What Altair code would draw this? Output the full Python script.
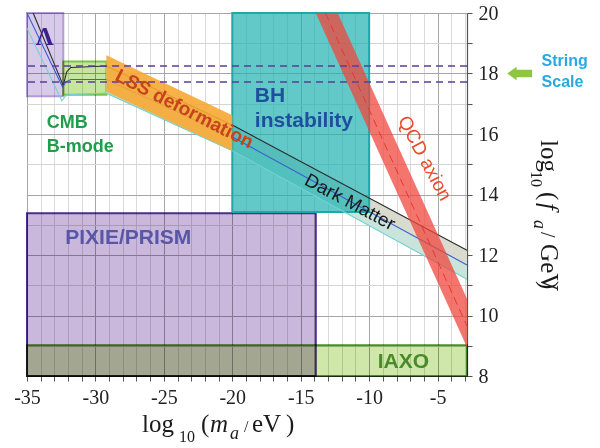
import altair as alt
import pandas as pd

# Axis ranges: log10(m_a / eV) and log10(f_a / GeV)
X_DOMAIN = [-35, -2.85]
Y_DOMAIN = [8, 20]

# Rectangular regions drawn with multiply blending
box_name = ["PIXIE/PRISM", "IAXO", "Lambda", "CMB B-mode"]
box_x0 = [-35.0, -35.0, -35.0, -32.35]
box_x1 = [-13.9, -2.85, -32.35, -29.2]
box_y0 = [8.0, 8.0, 17.25, 17.3]
box_y1 = [13.38, 9.02, 20.0, 18.4]
box_fill = ["#c9b8dc", "#cfe7a9", "#d8cbe9", "#c6e69f"]
box_stroke = ["#4b2d8f", "#4f8c2b", "#b49bd4", "#7ec544"]

# Black-hole superradiance region
bh_x = [-20.0, -10.0]
bh_y = [13.42, 20.0]

# Dark-matter relic lines (upper, central, lower)
dm_upper_x = [-34.55, -32.35, -32.1, -31.8, -29.2, -20.0, -2.85]
dm_upper_y = [20.0, 17.6, 18.05, 18.2, 18.25, 16.3, 12.16]
dm_mid_x = [-35.0, -32.4, -32.15, -31.8, -29.2, -20.0, -2.85]
dm_mid_y = [20.0, 17.55, 17.72, 17.8, 17.8, 15.9, 11.67]
dm_low_x = [-35.0, -32.45, -32.1, -29.2, -20.0, -2.85]
dm_low_y = [19.5, 17.1, 17.3, 17.35, 15.45, 11.2]
DM_BAND_START = -29.2

# Large-scale-structure deformation band
lss_x = [-29.2, -20.0]
lss_lo = [17.4, 15.45]
lss_hi = [18.6, 16.62]

# QCD axion band and its central line
qcd_x = [-13.9, -12.3, -2.85]
qcd_lo = [20.0, 18.4, 8.95]
qcd_hi = [20.0, 20.0, 10.55]
qcd_mid_x = [-13.2, -2.85]
qcd_mid_y = [20.0, 9.65]

# String scale
string_y = [18.25, 17.72]

# Region labels
lab_text = ["PIXIE/PRISM", "IAXO", "CMB", "B-mode", "BH", "instability",
            "LSS deformation", "Dark Matter", "QCD axion", "String", "Scale"]
lab_x = [-27.6, -7.5, -33.55, -33.55, -18.35, -18.35, -23.5, -11.4, -5.95, 2.6, 2.6]
lab_y = [12.56, 8.45, 16.36, 15.57, 17.26, 16.43, 16.83, 13.75, 15.2, 18.41, 17.72]
lab_angle = [0, 0, 0, 0, 0, 0, 27, 28, 62, 0, 0]
lab_color = ["#5756a8", "#4a8a2a", "#1e9e4a", "#1e9e4a", "#1d4f9e", "#1d4f9e",
             "#c5431d", "#1a1a1a", "#ec4a2c", "#27a9e1", "#27a9e1"]
lab_size = [21, 21, 18, 18, 21, 21, 19, 19, 19, 16, 16]
lab_weight = ["bold", "bold", "bold", "bold", "bold", "bold",
              "bold", "normal", "normal", "bold", "bold"]
lab_align = ["center", "center", "left", "left", "left", "left",
             "center", "center", "center", "left", "left"]

# Cosmological-constant symbol
lambda_pos = (-33.7, 19.2)

# Arrow pointing at the string scale
arrow_pos = (1.0, 18.0)
ARROW_PATH = "M -1 0 L -0.25 -0.55 L -0.25 -0.3 L 1 -0.3 L 1 0.3 L -0.25 0.3 L -0.25 0.55 Z"

# Axis titles built piece by piece (text, x, y, size, style)
xt_text = ["log", "10", "(", "m", "a", "/", "eV", ")"]
xt_x = [-26.6, -23.9, -22.29, -21.63, -20.17, -19.15, -18.56, -16.08]
xt_y = [6.15, 5.82, 6.15, 6.15, 5.92, 6.15, 6.15, 6.15]
xt_size = [25, 16, 25, 25, 18, 16, 25, 25]
xt_style = ["normal", "normal", "normal", "italic", "italic", "normal", "normal", "normal"]

yt_text = ["log", "10", "(", "f", "a", "/", "GeV", ")"]
yt_x = [2.545, 1.815, 2.545, 2.545, 2.03, 2.545, 2.545, 2.545]
yt_y = [15.8, 14.78, 14.08, 13.72, 13.16, 12.76, 12.36, 11.14]
yt_size = [25, 16, 25, 25, 18, 20, 25, 25]
yt_style = ["normal", "normal", "normal", "italic", "italic", "normal", "normal", "normal"]

SERIF = "Liberation Serif"
SANS = "Liberation Sans"

XS = alt.Scale(domain=X_DOMAIN, nice=False, zero=False)
YS = alt.Scale(domain=Y_DOMAIN, nice=False, zero=False)

x_axis = alt.Axis(
    orient="bottom", values=list(range(-35, -2)),
    labelExpr="datum.value % 5 === 0 ? '' + datum.value : ''",
    title=None, grid=True,
    gridColor=alt.condition("datum.value % 5 === 0", alt.value("#a6a6a6"), alt.value("#dadada")),
    gridWidth=1, tickSize=5, tickColor="#555", domainColor="#555", domainWidth=1.2,
    labelFont=SERIF, labelFontSize=20, labelColor="#222", labelPadding=6,
    labelFlush=False, labelOverlap=False,
)
y_axis = alt.Axis(
    orient="right", values=list(range(8, 21)),
    labelExpr="datum.value % 2 === 0 ? '' + datum.value : ''",
    title=None, grid=True,
    gridColor=alt.condition("datum.value % 2 === 0", alt.value("#a6a6a6"), alt.value("#d4d4d4")),
    gridWidth=1, tickSize=5, tickColor="#555", domainColor="#555", domainWidth=1.2,
    labelFont=SERIF, labelFontSize=20, labelColor="#222", labelPadding=6,
    labelOverlap=False,
)


def X(field="x"):
    return alt.X(f"{field}:Q", scale=XS, axis=x_axis)


def Y(field="y"):
    return alt.Y(f"{field}:Q", scale=YS, axis=y_axis)


boxes = pd.DataFrame({"name": box_name, "x0": box_x0, "x1": box_x1, "y0": box_y0,
                      "y1": box_y1, "fill": box_fill, "stroke": box_stroke})
box_layer = alt.Chart(boxes).mark_rect(strokeWidth=2, blend="multiply").encode(
    x=X("x0"), x2="x1:Q", y=Y("y0"), y2="y1:Q",
    fill=alt.Fill("fill:N", scale=None),
    stroke=alt.Stroke("stroke:N", scale=None),
)

bh = pd.DataFrame({"x0": [bh_x[0]], "x1": [bh_x[1]], "y0": [bh_y[0]], "y1": [bh_y[1]]})
bh_layer = alt.Chart(bh).mark_rect(
    fill="#1fb0b0", fillOpacity=0.7, stroke="#1ea8a8", strokeWidth=2
).encode(x=X("x0"), x2="x1:Q", y=Y("y0"), y2="y1:Q")


# Dark-matter band fill, from the diagonal part of the three lines
def band_points(xs, ys):
    return {x: y for x, y in zip(xs, ys) if x >= DM_BAND_START}


up = band_points(dm_upper_x, dm_upper_y)
mid = band_points(dm_mid_x, dm_mid_y)
low = band_points(dm_low_x, dm_low_y)
band_x = sorted(up)
band = pd.DataFrame({"x": band_x, "up": [up[x] for x in band_x],
                     "mid": [mid[x] for x in band_x], "low": [low[x] for x in band_x]})
band_upper = alt.Chart(band).mark_area(color="#d9dbcf").encode(
    x=X(), y=Y("up"), y2="mid:Q")
band_lower = alt.Chart(band).mark_area(color="#c9e4da").encode(
    x=X(), y=Y("mid"), y2="low:Q")

dm_rows = []
for name, xs, ys, col in [("upper", dm_upper_x, dm_upper_y, "#2b2b2b"),
                          ("mid", dm_mid_x, dm_mid_y, "#3d5fd0"),
                          ("low", dm_low_x, dm_low_y, "#6fd3d0")]:
    for i, (xv, yv) in enumerate(zip(xs, ys)):
        dm_rows.append({"series": name, "i": i, "x": xv, "y": yv, "col": col})
dm_lines = alt.Chart(pd.DataFrame(dm_rows)).mark_line(strokeWidth=1.1).encode(
    x=X(), y=Y(), detail="series:N", order="i:Q",
    color=alt.Color("col:N", scale=None))

lss = pd.DataFrame({"x": lss_x, "lo": lss_lo, "hi": lss_hi})
lss_layer = alt.Chart(lss).mark_area(color="#f7a833", opacity=0.9).encode(
    x=X(), y=Y("hi"), y2="lo:Q")

qcd = pd.DataFrame({"x": qcd_x, "lo": qcd_lo, "hi": qcd_hi})
qcd_layer = alt.Chart(qcd).mark_area(color="#f0473e", opacity=0.75).encode(
    x=X(), y=Y("hi"), y2="lo:Q")
qcd_mid = alt.Chart(pd.DataFrame({"x": qcd_mid_x, "y": qcd_mid_y})).mark_line(
    color="#e23a30", strokeWidth=1, strokeDash=[8, 5]).encode(x=X(), y=Y())

string_lines = alt.Chart(pd.DataFrame({"y": string_y})).mark_rule(
    color="#5b3c9c", strokeWidth=1.6, strokeDash=[7, 5]).encode(y=Y())

labels = pd.DataFrame({"text": lab_text, "x": lab_x, "y": lab_y, "angle": lab_angle,
                       "col": lab_color, "size": lab_size, "weight": lab_weight,
                       "align": lab_align})
label_layers = []
for (weight, align), grp in labels.groupby(["weight", "align"]):
    label_layers.append(
        alt.Chart(grp).mark_text(font=SANS, fontWeight=weight, align=align,
                                 baseline="middle").encode(
            x=X(), y=Y(), text="text:N",
            angle=alt.Angle("angle:Q", scale=None),
            size=alt.Size("size:Q", scale=None),
            color=alt.Color("col:N", scale=None)))

lambda_layer = alt.Chart(pd.DataFrame({"x": [lambda_pos[0]], "y": [lambda_pos[1]],
                                       "t": ["Λ"]})).mark_text(
    font=SERIF, fontSize=25, fontWeight="bold", color="#3c1f8c", baseline="middle"
).encode(x=X(), y=Y(), text="t:N")

arrow_layer = alt.Chart(pd.DataFrame({"x": [arrow_pos[0]], "y": [arrow_pos[1]]})).mark_point(
    shape=ARROW_PATH, filled=True, size=620, color="#8dc63f", opacity=1
).encode(x=X(), y=Y())

title_layers = []
for texts, xs, ys, sizes, styles, ang in [
        (xt_text, xt_x, xt_y, xt_size, xt_style, 0),
        (yt_text, yt_x, yt_y, yt_size, yt_style, 90)]:
    tdf = pd.DataFrame({"text": texts, "x": xs, "y": ys, "size": sizes, "style": styles})
    for style, grp in tdf.groupby("style"):
        title_layers.append(
            alt.Chart(grp).mark_text(font=SERIF, fontStyle=style, align="left",
                                     baseline="alphabetic", angle=ang, color="#1a1a1a").encode(
                x=X(), y=Y(), text="text:N", size=alt.Size("size:Q", scale=None)))

chart = alt.layer(
    box_layer, band_upper, band_lower, bh_layer, dm_lines, lss_layer,
    qcd_layer, qcd_mid, string_lines, lambda_layer, arrow_layer,
    *label_layers, *title_layers,
).properties(
    width=440, height=363,
    autosize=alt.AutoSizeParams(type="none"),
    padding={"left": 27, "top": 13, "right": 133, "bottom": 72},
    background="white",
).configure_view(stroke=None)

chart.save("out.html", embed_options={"renderer": "svg", "actions": False})
